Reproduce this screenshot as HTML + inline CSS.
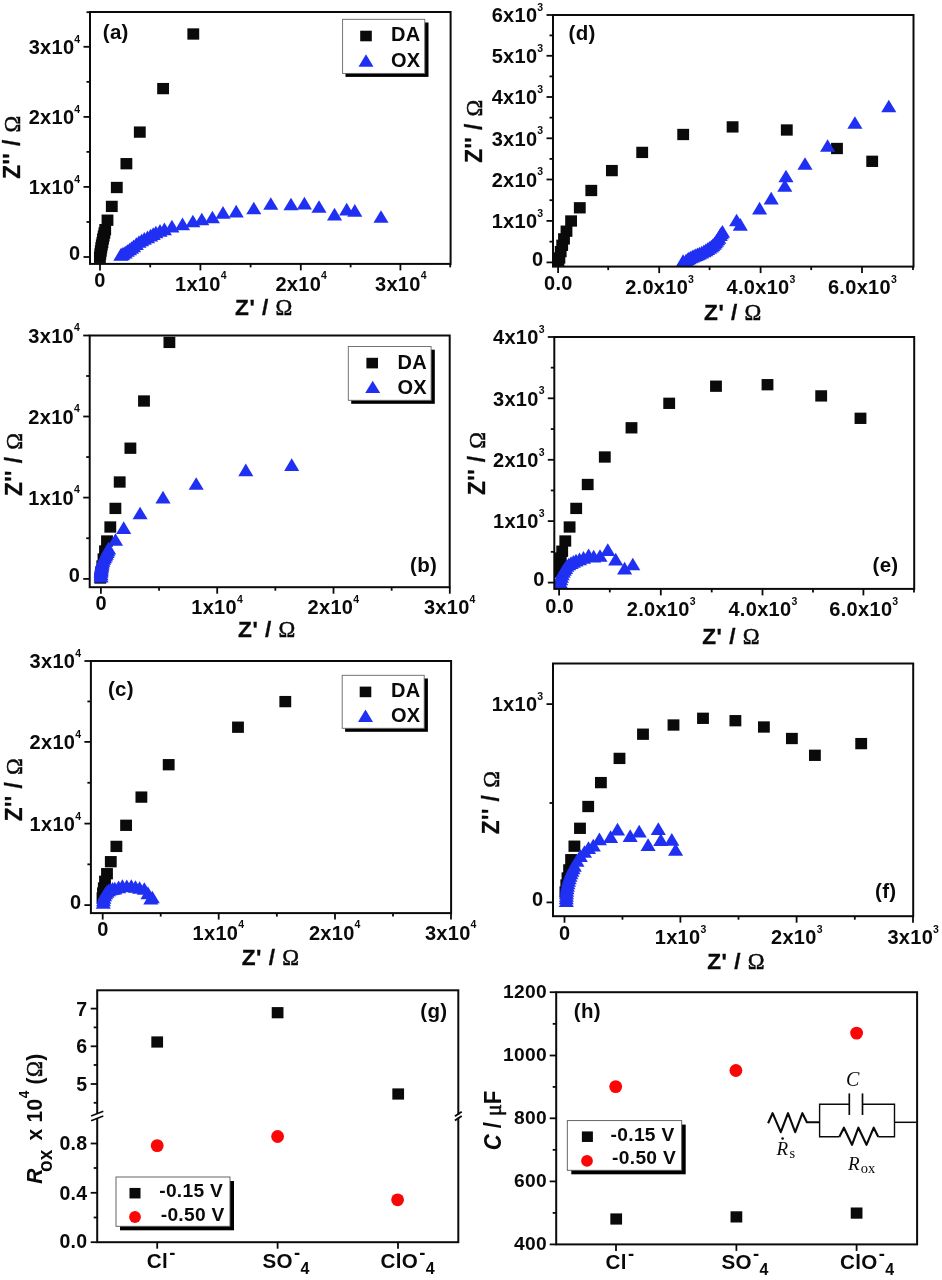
<!DOCTYPE html>
<html lang="en">
<head>
<meta charset="utf-8">
<title>Nyquist plots</title>
<style>
html,body{margin:0;padding:0;background:#fff;}
body{width:942px;height:1280px;overflow:hidden;}
svg{display:block;filter:blur(0.45px);}
</style>
</head>
<body>
<svg width="942" height="1280" viewBox="0 0 942 1280">
<rect x="0" y="0" width="942" height="1280" fill="#fff"/>
<g id="pa">
<clipPath id="ca"><rect x="90" y="12" width="360.6" height="251.9"/></clipPath>
<g clip-path="url(#ca)">
<rect x="187.38" y="28.34" width="11.83" height="11.31" fill="#0a0a0a"/>
<rect x="157.18" y="82.94" width="11.83" height="11.31" fill="#0a0a0a"/>
<rect x="133.88" y="126.44" width="11.83" height="11.31" fill="#0a0a0a"/>
<rect x="120.48" y="158.04" width="11.83" height="11.31" fill="#0a0a0a"/>
<rect x="110.88" y="181.84" width="11.83" height="11.31" fill="#0a0a0a"/>
<rect x="105.88" y="200.75" width="11.83" height="11.31" fill="#0a0a0a"/>
<rect x="101.58" y="214.54" width="11.83" height="11.31" fill="#0a0a0a"/>
<rect x="99.28" y="224.04" width="11.83" height="11.31" fill="#0a0a0a"/>
<rect x="98.48" y="227.34" width="11.83" height="11.31" fill="#0a0a0a"/>
<rect x="97.78" y="230.34" width="11.83" height="11.31" fill="#0a0a0a"/>
<rect x="97.08" y="233.34" width="11.83" height="11.31" fill="#0a0a0a"/>
<rect x="96.48" y="236.84" width="11.83" height="11.31" fill="#0a0a0a"/>
<rect x="95.88" y="239.34" width="11.83" height="11.31" fill="#0a0a0a"/>
<rect x="95.38" y="242.15" width="11.83" height="11.31" fill="#0a0a0a"/>
<rect x="94.88" y="245.34" width="11.83" height="11.31" fill="#0a0a0a"/>
<rect x="94.38" y="248.34" width="11.83" height="11.31" fill="#0a0a0a"/>
<rect x="93.98" y="251.65" width="11.83" height="11.31" fill="#0a0a0a"/>
<polygon points="120.9,247.95 113.35,260.65 128.45,260.65" fill="#2030f2"/>
<polygon points="122,247.65 114.45,260.35 129.55,260.35" fill="#2030f2"/>
<polygon points="123,246.85 115.45,259.55 130.55,259.55" fill="#2030f2"/>
<polygon points="125.2,245.85 117.65,258.55 132.75,258.55" fill="#2030f2"/>
<polygon points="127.3,244.15 119.75,256.85 134.85,256.85" fill="#2030f2"/>
<polygon points="129.5,242.65 121.95,255.35 137.05,255.35" fill="#2030f2"/>
<polygon points="131.5,241.15 123.95,253.85 139.05,253.85" fill="#2030f2"/>
<polygon points="133.6,239.45 126.05,252.15 141.15,252.15" fill="#2030f2"/>
<polygon points="136.3,237.25 128.75,249.95 143.85,249.95" fill="#2030f2"/>
<polygon points="139,235.15 131.45,247.85 146.55,247.85" fill="#2030f2"/>
<polygon points="141.6,233.65 134.05,246.35 149.15,246.35" fill="#2030f2"/>
<polygon points="144.3,232.05 136.75,244.75 151.85,244.75" fill="#2030f2"/>
<polygon points="147.5,230.45 139.95,243.15 155.05,243.15" fill="#2030f2"/>
<polygon points="150.6,228.85 143.05,241.55 158.15,241.55" fill="#2030f2"/>
<polygon points="153.2,227.25 145.65,239.95 160.75,239.95" fill="#2030f2"/>
<polygon points="155.9,225.65 148.35,238.35 163.45,238.35" fill="#2030f2"/>
<polygon points="160,224.05 152.45,236.75 167.55,236.75" fill="#2030f2"/>
<polygon points="164.4,222.45 156.85,235.15 171.95,235.15" fill="#2030f2"/>
<polygon points="171.9,219.85 164.35,232.55 179.45,232.55" fill="#2030f2"/>
<polygon points="182.5,217.45 174.95,230.15 190.05,230.15" fill="#2030f2"/>
<polygon points="192.9,214.65 185.35,227.35 200.45,227.35" fill="#2030f2"/>
<polygon points="201.8,212.65 194.25,225.35 209.35,225.35" fill="#2030f2"/>
<polygon points="212.4,210.65 204.85,223.35 219.95,223.35" fill="#2030f2"/>
<polygon points="223,205.95 215.45,218.65 230.55,218.65" fill="#2030f2"/>
<polygon points="236.2,204.85 228.65,217.55 243.75,217.55" fill="#2030f2"/>
<polygon points="253.8,201.65 246.25,214.35 261.35,214.35" fill="#2030f2"/>
<polygon points="270.8,197.15 263.25,209.85 278.35,209.85" fill="#2030f2"/>
<polygon points="291,197.65 283.45,210.35 298.55,210.35" fill="#2030f2"/>
<polygon points="304.4,196.85 296.85,209.55 311.95,209.55" fill="#2030f2"/>
<polygon points="319,200.15 311.45,212.85 326.55,212.85" fill="#2030f2"/>
<polygon points="334.5,207.85 326.95,220.55 342.05,220.55" fill="#2030f2"/>
<polygon points="346.7,202.75 339.15,215.45 354.25,215.45" fill="#2030f2"/>
<polygon points="354.8,204.05 347.25,216.75 362.35,216.75" fill="#2030f2"/>
<polygon points="381,210.15 373.45,222.85 388.55,222.85" fill="#2030f2"/>
</g>
<rect x="90" y="12" width="360.6" height="251.9" fill="none" stroke="#0a0a0a" stroke-width="2"/>
<line x1="83.5" y1="257" x2="90" y2="257" stroke="#0a0a0a" stroke-width="1.8" stroke-linecap="butt"/>
<line x1="83.5" y1="186.9" x2="90" y2="186.9" stroke="#0a0a0a" stroke-width="1.8" stroke-linecap="butt"/>
<line x1="83.5" y1="116.9" x2="90" y2="116.9" stroke="#0a0a0a" stroke-width="1.8" stroke-linecap="butt"/>
<line x1="83.5" y1="46.8" x2="90" y2="46.8" stroke="#0a0a0a" stroke-width="1.8" stroke-linecap="butt"/>
<line x1="86.5" y1="221.95" x2="90" y2="221.95" stroke="#0a0a0a" stroke-width="1.8" stroke-linecap="butt"/>
<line x1="86.5" y1="151.9" x2="90" y2="151.9" stroke="#0a0a0a" stroke-width="1.8" stroke-linecap="butt"/>
<line x1="86.5" y1="81.85" x2="90" y2="81.85" stroke="#0a0a0a" stroke-width="1.8" stroke-linecap="butt"/>
<line x1="86.5" y1="12.2" x2="90" y2="12.2" stroke="#0a0a0a" stroke-width="1.8" stroke-linecap="butt"/>
<line x1="100" y1="263.9" x2="100" y2="270.4" stroke="#0a0a0a" stroke-width="1.8" stroke-linecap="butt"/>
<line x1="200.4" y1="263.9" x2="200.4" y2="270.4" stroke="#0a0a0a" stroke-width="1.8" stroke-linecap="butt"/>
<line x1="300.8" y1="263.9" x2="300.8" y2="270.4" stroke="#0a0a0a" stroke-width="1.8" stroke-linecap="butt"/>
<line x1="400.4" y1="263.9" x2="400.4" y2="270.4" stroke="#0a0a0a" stroke-width="1.8" stroke-linecap="butt"/>
<line x1="150.2" y1="263.9" x2="150.2" y2="267.4" stroke="#0a0a0a" stroke-width="1.8" stroke-linecap="butt"/>
<line x1="250.6" y1="263.9" x2="250.6" y2="267.4" stroke="#0a0a0a" stroke-width="1.8" stroke-linecap="butt"/>
<line x1="350.6" y1="263.9" x2="350.6" y2="267.4" stroke="#0a0a0a" stroke-width="1.8" stroke-linecap="butt"/>
<line x1="450.2" y1="263.9" x2="450.2" y2="267.4" stroke="#0a0a0a" stroke-width="1.8" stroke-linecap="butt"/>
<text x="80.5" y="260.4" font-family='"Liberation Sans", Arial, Helvetica, sans-serif' font-size="20" font-weight="bold" font-style="normal" text-anchor="end" fill="#0a0a0a" letter-spacing="0.3">0</text>
<text x="80.5" y="194.1" font-family='"Liberation Sans", Arial, Helvetica, sans-serif' font-size="20" font-weight="bold" font-style="normal" text-anchor="end" fill="#0a0a0a" letter-spacing="0.3">1x10<tspan font-size="10.5" dy="-11.5">4</tspan></text>
<text x="80.5" y="124.1" font-family='"Liberation Sans", Arial, Helvetica, sans-serif' font-size="20" font-weight="bold" font-style="normal" text-anchor="end" fill="#0a0a0a" letter-spacing="0.3">2x10<tspan font-size="10.5" dy="-11.5">4</tspan></text>
<text x="80.5" y="54" font-family='"Liberation Sans", Arial, Helvetica, sans-serif' font-size="20" font-weight="bold" font-style="normal" text-anchor="end" fill="#0a0a0a" letter-spacing="0.3">3x10<tspan font-size="10.5" dy="-11.5">4</tspan></text>
<text x="100" y="287.2" font-family='"Liberation Sans", Arial, Helvetica, sans-serif' font-size="20" font-weight="bold" font-style="normal" text-anchor="middle" fill="#0a0a0a" letter-spacing="0.3">0</text>
<text x="200.9" y="290.6" font-family='"Liberation Sans", Arial, Helvetica, sans-serif' font-size="20" font-weight="bold" font-style="normal" text-anchor="middle" fill="#0a0a0a" letter-spacing="0.3">1x10<tspan font-size="10.5" dy="-11.5">4</tspan></text>
<text x="301.3" y="290.6" font-family='"Liberation Sans", Arial, Helvetica, sans-serif' font-size="20" font-weight="bold" font-style="normal" text-anchor="middle" fill="#0a0a0a" letter-spacing="0.3">2x10<tspan font-size="10.5" dy="-11.5">4</tspan></text>
<text x="400.9" y="290.6" font-family='"Liberation Sans", Arial, Helvetica, sans-serif' font-size="20" font-weight="bold" font-style="normal" text-anchor="middle" fill="#0a0a0a" letter-spacing="0.3">3x10<tspan font-size="10.5" dy="-11.5">4</tspan></text>
<text x="102.8" y="39.3" font-family='"Liberation Sans", Arial, Helvetica, sans-serif' font-size="20.5" font-weight="bold" font-style="normal" text-anchor="start" fill="#0a0a0a" letter-spacing="0.3">(a)</text>
<rect x="345.5" y="22.5" width="83" height="54.4" fill="#000"/>
<rect x="342.6" y="19.3" width="82.2" height="54.1" fill="#fff" stroke="#666" stroke-width="0.9"/>
<rect x="360.2" y="30.7" width="11.6" height="10.6" fill="#0a0a0a"/>
<polygon points="366,54.3 358.5,66.7 373.5,66.7" fill="#2030f2"/>
<text x="391" y="41.3" font-family='"Liberation Sans", Arial, Helvetica, sans-serif' font-size="20" font-weight="bold" font-style="normal" text-anchor="start" fill="#0a0a0a" letter-spacing="0.3">DA</text>
<text x="391" y="66.8" font-family='"Liberation Sans", Arial, Helvetica, sans-serif' font-size="20" font-weight="bold" font-style="normal" text-anchor="start" fill="#0a0a0a" letter-spacing="0.3">OX</text>
<text transform="translate(20.2,147) rotate(-90) scale(1,1.06)" font-family='"Liberation Sans", Arial, Helvetica, sans-serif' font-size="22.6" font-weight="bold" letter-spacing="0.5" text-anchor="middle" stroke="#0a0a0a" stroke-width="0.3" fill="#0a0a0a">Z&#39;&#39; / <tspan font-weight="normal" stroke="#0a0a0a" stroke-width="0.5" font-family='"Liberation Serif", "Times New Roman", serif'>&#937;</tspan></text>
<text x="264" y="315" font-family='"Liberation Sans", Arial, Helvetica, sans-serif' font-size="22.6" font-weight="bold" letter-spacing="0.5" text-anchor="middle" stroke="#0a0a0a" stroke-width="0.3" fill="#0a0a0a">Z&#39; / <tspan font-weight="normal" stroke="#0a0a0a" stroke-width="0.5" font-family='"Liberation Serif", "Times New Roman", serif'>&#937;</tspan></text>
</g>
<g id="pb">
<clipPath id="cb"><rect x="89.7" y="335.5" width="360" height="251.7"/></clipPath>
<g clip-path="url(#cb)">
<rect x="163.48" y="336.75" width="11.83" height="11.31" fill="#0a0a0a"/>
<rect x="138.08" y="395.35" width="11.83" height="11.31" fill="#0a0a0a"/>
<rect x="124.48" y="442.55" width="11.83" height="11.31" fill="#0a0a0a"/>
<rect x="113.78" y="476.35" width="11.83" height="11.31" fill="#0a0a0a"/>
<rect x="109.48" y="502.75" width="11.83" height="11.31" fill="#0a0a0a"/>
<rect x="104.38" y="521.35" width="11.83" height="11.31" fill="#0a0a0a"/>
<rect x="101.08" y="535.35" width="11.83" height="11.31" fill="#0a0a0a"/>
<rect x="99.08" y="545.35" width="11.83" height="11.31" fill="#0a0a0a"/>
<rect x="97.58" y="553.35" width="11.83" height="11.31" fill="#0a0a0a"/>
<rect x="96.38" y="560.35" width="11.83" height="11.31" fill="#0a0a0a"/>
<rect x="95.28" y="566.35" width="11.83" height="11.31" fill="#0a0a0a"/>
<rect x="94.38" y="572.35" width="11.83" height="11.31" fill="#0a0a0a"/>
<polygon points="291.7,458.35 284.15,471.05 299.25,471.05" fill="#2030f2"/>
<polygon points="245.8,463.45 238.25,476.15 253.35,476.15" fill="#2030f2"/>
<polygon points="196.2,477.15 188.65,489.85 203.75,489.85" fill="#2030f2"/>
<polygon points="163,490.85 155.45,503.55 170.55,503.55" fill="#2030f2"/>
<polygon points="140.1,506.65 132.55,519.35 147.65,519.35" fill="#2030f2"/>
<polygon points="123.7,521.25 116.15,533.95 131.25,533.95" fill="#2030f2"/>
<polygon points="115.5,533.15 107.95,545.85 123.05,545.85" fill="#2030f2"/>
<polygon points="108.6,541.85 101.05,554.55 116.15,554.55" fill="#2030f2"/>
<polygon points="107.82,543.6 100.27,556.3 115.37,556.3" fill="#2030f2"/>
<polygon points="107.05,545.35 99.5,558.05 114.6,558.05" fill="#2030f2"/>
<polygon points="106.28,547.1 98.73,559.8 113.83,559.8" fill="#2030f2"/>
<polygon points="105.5,548.85 97.95,561.55 113.05,561.55" fill="#2030f2"/>
<polygon points="104.55,550.45 97,563.15 112.1,563.15" fill="#2030f2"/>
<polygon points="103.6,552.05 96.05,564.75 111.15,564.75" fill="#2030f2"/>
<polygon points="102.95,553.95 95.4,566.65 110.5,566.65" fill="#2030f2"/>
<polygon points="102.3,555.85 94.75,568.55 109.85,568.55" fill="#2030f2"/>
<polygon points="102,557.5 94.45,570.2 109.55,570.2" fill="#2030f2"/>
<polygon points="101.7,559.15 94.15,571.85 109.25,571.85" fill="#2030f2"/>
<polygon points="101.5,560.65 93.95,573.35 109.05,573.35" fill="#2030f2"/>
<polygon points="101.3,562.15 93.75,574.85 108.85,574.85" fill="#2030f2"/>
<polygon points="101.2,563.65 93.65,576.35 108.75,576.35" fill="#2030f2"/>
<polygon points="101.1,565.15 93.55,577.85 108.65,577.85" fill="#2030f2"/>
<polygon points="101.05,567.5 93.5,580.2 108.6,580.2" fill="#2030f2"/>
<polygon points="101,569.85 93.45,582.55 108.55,582.55" fill="#2030f2"/>
</g>
<rect x="89.7" y="335.5" width="360" height="251.7" fill="none" stroke="#0a0a0a" stroke-width="2"/>
<line x1="83.2" y1="578.9" x2="89.7" y2="578.9" stroke="#0a0a0a" stroke-width="1.8" stroke-linecap="butt"/>
<line x1="83.2" y1="497.6" x2="89.7" y2="497.6" stroke="#0a0a0a" stroke-width="1.8" stroke-linecap="butt"/>
<line x1="83.2" y1="416.5" x2="89.7" y2="416.5" stroke="#0a0a0a" stroke-width="1.8" stroke-linecap="butt"/>
<line x1="83.2" y1="335.5" x2="89.7" y2="335.5" stroke="#0a0a0a" stroke-width="1.8" stroke-linecap="butt"/>
<line x1="86.2" y1="538.25" x2="89.7" y2="538.25" stroke="#0a0a0a" stroke-width="1.8" stroke-linecap="butt"/>
<line x1="86.2" y1="457.05" x2="89.7" y2="457.05" stroke="#0a0a0a" stroke-width="1.8" stroke-linecap="butt"/>
<line x1="86.2" y1="376" x2="89.7" y2="376" stroke="#0a0a0a" stroke-width="1.8" stroke-linecap="butt"/>
<line x1="100.9" y1="587.2" x2="100.9" y2="593.7" stroke="#0a0a0a" stroke-width="1.8" stroke-linecap="butt"/>
<line x1="217.2" y1="587.2" x2="217.2" y2="593.7" stroke="#0a0a0a" stroke-width="1.8" stroke-linecap="butt"/>
<line x1="333.5" y1="587.2" x2="333.5" y2="593.7" stroke="#0a0a0a" stroke-width="1.8" stroke-linecap="butt"/>
<line x1="449.8" y1="587.2" x2="449.8" y2="593.7" stroke="#0a0a0a" stroke-width="1.8" stroke-linecap="butt"/>
<line x1="159.05" y1="587.2" x2="159.05" y2="590.7" stroke="#0a0a0a" stroke-width="1.8" stroke-linecap="butt"/>
<line x1="275.35" y1="587.2" x2="275.35" y2="590.7" stroke="#0a0a0a" stroke-width="1.8" stroke-linecap="butt"/>
<line x1="391.65" y1="587.2" x2="391.65" y2="590.7" stroke="#0a0a0a" stroke-width="1.8" stroke-linecap="butt"/>
<text x="80.2" y="582.1" font-family='"Liberation Sans", Arial, Helvetica, sans-serif' font-size="20" font-weight="bold" font-style="normal" text-anchor="end" fill="#0a0a0a" letter-spacing="0.3">0</text>
<text x="80.2" y="504.8" font-family='"Liberation Sans", Arial, Helvetica, sans-serif' font-size="20" font-weight="bold" font-style="normal" text-anchor="end" fill="#0a0a0a" letter-spacing="0.3">1x10<tspan font-size="10.5" dy="-11.5">4</tspan></text>
<text x="80.2" y="423.7" font-family='"Liberation Sans", Arial, Helvetica, sans-serif' font-size="20" font-weight="bold" font-style="normal" text-anchor="end" fill="#0a0a0a" letter-spacing="0.3">2x10<tspan font-size="10.5" dy="-11.5">4</tspan></text>
<text x="80.2" y="342.7" font-family='"Liberation Sans", Arial, Helvetica, sans-serif' font-size="20" font-weight="bold" font-style="normal" text-anchor="end" fill="#0a0a0a" letter-spacing="0.3">3x10<tspan font-size="10.5" dy="-11.5">4</tspan></text>
<text x="101.2" y="610" font-family='"Liberation Sans", Arial, Helvetica, sans-serif' font-size="20" font-weight="bold" font-style="normal" text-anchor="middle" fill="#0a0a0a" letter-spacing="0.3">0</text>
<text x="217.2" y="614.1" font-family='"Liberation Sans", Arial, Helvetica, sans-serif' font-size="20" font-weight="bold" font-style="normal" text-anchor="middle" fill="#0a0a0a" letter-spacing="0.3">1x10<tspan font-size="10.5" dy="-11.5">4</tspan></text>
<text x="333.5" y="614.1" font-family='"Liberation Sans", Arial, Helvetica, sans-serif' font-size="20" font-weight="bold" font-style="normal" text-anchor="middle" fill="#0a0a0a" letter-spacing="0.3">2x10<tspan font-size="10.5" dy="-11.5">4</tspan></text>
<text x="449.8" y="614.1" font-family='"Liberation Sans", Arial, Helvetica, sans-serif' font-size="20" font-weight="bold" font-style="normal" text-anchor="middle" fill="#0a0a0a" letter-spacing="0.3">3x10<tspan font-size="10.5" dy="-11.5">4</tspan></text>
<text x="410" y="572.1" font-family='"Liberation Sans", Arial, Helvetica, sans-serif' font-size="20.5" font-weight="bold" font-style="normal" text-anchor="start" fill="#0a0a0a" letter-spacing="0.3">(b)</text>
<rect x="351.2" y="349.7" width="83.6" height="54.1" fill="#000"/>
<rect x="348.3" y="346.5" width="82.8" height="53.8" fill="#fff" stroke="#666" stroke-width="0.9"/>
<rect x="366.4" y="357.8" width="11.6" height="10.6" fill="#0a0a0a"/>
<polygon points="372.7,380.7 365.2,393.1 380.2,393.1" fill="#2030f2"/>
<text x="397.4" y="368.6" font-family='"Liberation Sans", Arial, Helvetica, sans-serif' font-size="20" font-weight="bold" font-style="normal" text-anchor="start" fill="#0a0a0a" letter-spacing="0.3">DA</text>
<text x="397.4" y="394" font-family='"Liberation Sans", Arial, Helvetica, sans-serif' font-size="20" font-weight="bold" font-style="normal" text-anchor="start" fill="#0a0a0a" letter-spacing="0.3">OX</text>
<text transform="translate(21.8,464.3) rotate(-90) scale(1,1.06)" font-family='"Liberation Sans", Arial, Helvetica, sans-serif' font-size="22.6" font-weight="bold" letter-spacing="0.5" text-anchor="middle" stroke="#0a0a0a" stroke-width="0.3" fill="#0a0a0a">Z&#39;&#39; / <tspan font-weight="normal" stroke="#0a0a0a" stroke-width="0.5" font-family='"Liberation Serif", "Times New Roman", serif'>&#937;</tspan></text>
<text x="267" y="637.2" font-family='"Liberation Sans", Arial, Helvetica, sans-serif' font-size="22.6" font-weight="bold" letter-spacing="0.5" text-anchor="middle" stroke="#0a0a0a" stroke-width="0.3" fill="#0a0a0a">Z&#39; / <tspan font-weight="normal" stroke="#0a0a0a" stroke-width="0.5" font-family='"Liberation Serif", "Times New Roman", serif'>&#937;</tspan></text>
</g>
<g id="pc">
<clipPath id="cc"><rect x="90.9" y="661" width="360.2" height="252.1"/></clipPath>
<g clip-path="url(#cc)">
<rect x="279.38" y="695.95" width="11.83" height="11.31" fill="#0a0a0a"/>
<rect x="232.08" y="721.55" width="11.83" height="11.31" fill="#0a0a0a"/>
<rect x="162.78" y="759.05" width="11.83" height="11.31" fill="#0a0a0a"/>
<rect x="135.48" y="791.45" width="11.83" height="11.31" fill="#0a0a0a"/>
<rect x="120.18" y="819.64" width="11.83" height="11.31" fill="#0a0a0a"/>
<rect x="110.48" y="840.75" width="11.83" height="11.31" fill="#0a0a0a"/>
<rect x="104.88" y="856.05" width="11.83" height="11.31" fill="#0a0a0a"/>
<rect x="101.08" y="868.05" width="11.83" height="11.31" fill="#0a0a0a"/>
<rect x="99.08" y="875.64" width="11.83" height="11.31" fill="#0a0a0a"/>
<rect x="97.88" y="882.35" width="11.83" height="11.31" fill="#0a0a0a"/>
<rect x="97.08" y="887.35" width="11.83" height="11.31" fill="#0a0a0a"/>
<rect x="96.58" y="892.35" width="11.83" height="11.31" fill="#0a0a0a"/>
<polygon points="103.3,896.15 95.75,908.85 110.85,908.85" fill="#2030f2"/>
<polygon points="103.5,893.65 95.95,906.35 111.05,906.35" fill="#2030f2"/>
<polygon points="103.9,891.15 96.35,903.85 111.45,903.85" fill="#2030f2"/>
<polygon points="104.6,888.65 97.05,901.35 112.15,901.35" fill="#2030f2"/>
<polygon points="105.6,886.65 98.05,899.35 113.15,899.35" fill="#2030f2"/>
<polygon points="106.9,884.95 99.35,897.65 114.45,897.65" fill="#2030f2"/>
<polygon points="108.5,883.65 100.95,896.35 116.05,896.35" fill="#2030f2"/>
<polygon points="110.5,882.65 102.95,895.35 118.05,895.35" fill="#2030f2"/>
<polygon points="112.5,882.05 104.95,894.75 120.05,894.75" fill="#2030f2"/>
<polygon points="114.8,881.75 107.25,894.45 122.35,894.45" fill="#2030f2"/>
<polygon points="118.6,880.45 111.05,893.15 126.15,893.15" fill="#2030f2"/>
<polygon points="122.4,879.25 114.85,891.95 129.95,891.95" fill="#2030f2"/>
<polygon points="126.8,879.45 119.25,892.15 134.35,892.15" fill="#2030f2"/>
<polygon points="131.3,879.25 123.75,891.95 138.85,891.95" fill="#2030f2"/>
<polygon points="135.5,880.15 127.95,892.85 143.05,892.85" fill="#2030f2"/>
<polygon points="139.6,881.15 132.05,893.85 147.15,893.85" fill="#2030f2"/>
<polygon points="144.3,882.15 136.75,894.85 151.85,894.85" fill="#2030f2"/>
<polygon points="148,886.45 140.45,899.15 155.55,899.15" fill="#2030f2"/>
<polygon points="152.3,890.65 144.75,903.35 159.85,903.35" fill="#2030f2"/>
<polygon points="150.8,891.85 143.25,904.55 158.35,904.55" fill="#2030f2"/>
</g>
<rect x="90.9" y="661" width="360.2" height="252.1" fill="none" stroke="#0a0a0a" stroke-width="2"/>
<line x1="84.4" y1="905.1" x2="90.9" y2="905.1" stroke="#0a0a0a" stroke-width="1.8" stroke-linecap="butt"/>
<line x1="84.4" y1="823.6" x2="90.9" y2="823.6" stroke="#0a0a0a" stroke-width="1.8" stroke-linecap="butt"/>
<line x1="84.4" y1="741.9" x2="90.9" y2="741.9" stroke="#0a0a0a" stroke-width="1.8" stroke-linecap="butt"/>
<line x1="84.4" y1="661" x2="90.9" y2="661" stroke="#0a0a0a" stroke-width="1.8" stroke-linecap="butt"/>
<line x1="87.4" y1="864.35" x2="90.9" y2="864.35" stroke="#0a0a0a" stroke-width="1.8" stroke-linecap="butt"/>
<line x1="87.4" y1="782.75" x2="90.9" y2="782.75" stroke="#0a0a0a" stroke-width="1.8" stroke-linecap="butt"/>
<line x1="87.4" y1="701.45" x2="90.9" y2="701.45" stroke="#0a0a0a" stroke-width="1.8" stroke-linecap="butt"/>
<line x1="102.7" y1="913.1" x2="102.7" y2="919.6" stroke="#0a0a0a" stroke-width="1.8" stroke-linecap="butt"/>
<line x1="218.7" y1="913.1" x2="218.7" y2="919.6" stroke="#0a0a0a" stroke-width="1.8" stroke-linecap="butt"/>
<line x1="335" y1="913.1" x2="335" y2="919.6" stroke="#0a0a0a" stroke-width="1.8" stroke-linecap="butt"/>
<line x1="451" y1="913.1" x2="451" y2="919.6" stroke="#0a0a0a" stroke-width="1.8" stroke-linecap="butt"/>
<line x1="160.7" y1="913.1" x2="160.7" y2="916.6" stroke="#0a0a0a" stroke-width="1.8" stroke-linecap="butt"/>
<line x1="276.85" y1="913.1" x2="276.85" y2="916.6" stroke="#0a0a0a" stroke-width="1.8" stroke-linecap="butt"/>
<line x1="393" y1="913.1" x2="393" y2="916.6" stroke="#0a0a0a" stroke-width="1.8" stroke-linecap="butt"/>
<text x="81.4" y="908.7" font-family='"Liberation Sans", Arial, Helvetica, sans-serif' font-size="20" font-weight="bold" font-style="normal" text-anchor="end" fill="#0a0a0a" letter-spacing="0.3">0</text>
<text x="81.4" y="831" font-family='"Liberation Sans", Arial, Helvetica, sans-serif' font-size="20" font-weight="bold" font-style="normal" text-anchor="end" fill="#0a0a0a" letter-spacing="0.3">1x10<tspan font-size="10.5" dy="-11.5">4</tspan></text>
<text x="81.4" y="749.3" font-family='"Liberation Sans", Arial, Helvetica, sans-serif' font-size="20" font-weight="bold" font-style="normal" text-anchor="end" fill="#0a0a0a" letter-spacing="0.3">2x10<tspan font-size="10.5" dy="-11.5">4</tspan></text>
<text x="81.4" y="668.4" font-family='"Liberation Sans", Arial, Helvetica, sans-serif' font-size="20" font-weight="bold" font-style="normal" text-anchor="end" fill="#0a0a0a" letter-spacing="0.3">3x10<tspan font-size="10.5" dy="-11.5">4</tspan></text>
<text x="103" y="935.7" font-family='"Liberation Sans", Arial, Helvetica, sans-serif' font-size="20" font-weight="bold" font-style="normal" text-anchor="middle" fill="#0a0a0a" letter-spacing="0.3">0</text>
<text x="218.5" y="939.8" font-family='"Liberation Sans", Arial, Helvetica, sans-serif' font-size="20" font-weight="bold" font-style="normal" text-anchor="middle" fill="#0a0a0a" letter-spacing="0.3">1x10<tspan font-size="10.5" dy="-11.5">4</tspan></text>
<text x="334.8" y="939.8" font-family='"Liberation Sans", Arial, Helvetica, sans-serif' font-size="20" font-weight="bold" font-style="normal" text-anchor="middle" fill="#0a0a0a" letter-spacing="0.3">2x10<tspan font-size="10.5" dy="-11.5">4</tspan></text>
<text x="450.8" y="939.8" font-family='"Liberation Sans", Arial, Helvetica, sans-serif' font-size="20" font-weight="bold" font-style="normal" text-anchor="middle" fill="#0a0a0a" letter-spacing="0.3">3x10<tspan font-size="10.5" dy="-11.5">4</tspan></text>
<text x="107.9" y="695.5" font-family='"Liberation Sans", Arial, Helvetica, sans-serif' font-size="20.5" font-weight="bold" font-style="normal" text-anchor="start" fill="#0a0a0a" letter-spacing="0.3">(c)</text>
<rect x="345.1" y="678.5" width="82.8" height="53.3" fill="#000"/>
<rect x="342.2" y="675.3" width="82" height="53" fill="#fff" stroke="#666" stroke-width="0.9"/>
<rect x="359.7" y="686.6" width="11.6" height="10.6" fill="#0a0a0a"/>
<polygon points="365.5,709.5 358,721.9 373,721.9" fill="#2030f2"/>
<text x="391" y="697.4" font-family='"Liberation Sans", Arial, Helvetica, sans-serif' font-size="20" font-weight="bold" font-style="normal" text-anchor="start" fill="#0a0a0a" letter-spacing="0.3">DA</text>
<text x="391" y="721.6" font-family='"Liberation Sans", Arial, Helvetica, sans-serif' font-size="20" font-weight="bold" font-style="normal" text-anchor="start" fill="#0a0a0a" letter-spacing="0.3">OX</text>
<text transform="translate(21.8,789.5) rotate(-90) scale(1,1.06)" font-family='"Liberation Sans", Arial, Helvetica, sans-serif' font-size="22.6" font-weight="bold" letter-spacing="0.5" text-anchor="middle" stroke="#0a0a0a" stroke-width="0.3" fill="#0a0a0a">Z&#39;&#39; / <tspan font-weight="normal" stroke="#0a0a0a" stroke-width="0.5" font-family='"Liberation Serif", "Times New Roman", serif'>&#937;</tspan></text>
<text x="270.7" y="964.5" font-family='"Liberation Sans", Arial, Helvetica, sans-serif' font-size="22.6" font-weight="bold" letter-spacing="0.5" text-anchor="middle" stroke="#0a0a0a" stroke-width="0.3" fill="#0a0a0a">Z&#39; / <tspan font-weight="normal" stroke="#0a0a0a" stroke-width="0.5" font-family='"Liberation Serif", "Times New Roman", serif'>&#937;</tspan></text>
</g>
<g id="pd">
<clipPath id="cd"><rect x="553" y="15" width="360.5" height="251.6"/></clipPath>
<g clip-path="url(#cd)">
<rect x="866.28" y="155.65" width="11.83" height="11.31" fill="#0a0a0a"/>
<rect x="831.08" y="142.84" width="11.83" height="11.31" fill="#0a0a0a"/>
<rect x="780.88" y="124.34" width="11.83" height="11.31" fill="#0a0a0a"/>
<rect x="726.68" y="121.25" width="11.83" height="11.31" fill="#0a0a0a"/>
<rect x="677.28" y="128.84" width="11.83" height="11.31" fill="#0a0a0a"/>
<rect x="636.28" y="146.75" width="11.83" height="11.31" fill="#0a0a0a"/>
<rect x="605.98" y="164.94" width="11.83" height="11.31" fill="#0a0a0a"/>
<rect x="585.38" y="184.84" width="11.83" height="11.31" fill="#0a0a0a"/>
<rect x="573.88" y="202.15" width="11.83" height="11.31" fill="#0a0a0a"/>
<rect x="565.18" y="215.34" width="11.83" height="11.31" fill="#0a0a0a"/>
<rect x="560.58" y="225.54" width="11.83" height="11.31" fill="#0a0a0a"/>
<rect x="558.08" y="233.25" width="11.83" height="11.31" fill="#0a0a0a"/>
<rect x="556.28" y="239.65" width="11.83" height="11.31" fill="#0a0a0a"/>
<rect x="554.78" y="245.94" width="11.83" height="11.31" fill="#0a0a0a"/>
<rect x="553.48" y="252.34" width="11.83" height="11.31" fill="#0a0a0a"/>
<rect x="552.48" y="256.65" width="11.83" height="11.31" fill="#0a0a0a"/>
<polygon points="683.1,254.25 675.55,266.95 690.65,266.95" fill="#2030f2"/>
<polygon points="686,253.85 678.45,266.55 693.55,266.55" fill="#2030f2"/>
<polygon points="687.5,252.65 679.95,265.35 695.05,265.35" fill="#2030f2"/>
<polygon points="689,251.45 681.45,264.15 696.55,264.15" fill="#2030f2"/>
<polygon points="690.73,250.65 683.18,263.35 698.28,263.35" fill="#2030f2"/>
<polygon points="692.47,249.85 684.92,262.55 700.02,262.55" fill="#2030f2"/>
<polygon points="694.2,249.05 686.65,261.75 701.75,261.75" fill="#2030f2"/>
<polygon points="695.93,248.32 688.38,261.02 703.48,261.02" fill="#2030f2"/>
<polygon points="697.67,247.58 690.12,260.28 705.22,260.28" fill="#2030f2"/>
<polygon points="699.4,246.85 691.85,259.55 706.95,259.55" fill="#2030f2"/>
<polygon points="701.65,245.7 694.1,258.4 709.2,258.4" fill="#2030f2"/>
<polygon points="703.9,244.55 696.35,257.25 711.45,257.25" fill="#2030f2"/>
<polygon points="705.75,243.45 698.2,256.15 713.3,256.15" fill="#2030f2"/>
<polygon points="707.6,242.35 700.05,255.05 715.15,255.05" fill="#2030f2"/>
<polygon points="709.45,241.1 701.9,253.8 717,253.8" fill="#2030f2"/>
<polygon points="711.3,239.85 703.75,252.55 718.85,252.55" fill="#2030f2"/>
<polygon points="712.8,238.5 705.25,251.2 720.35,251.2" fill="#2030f2"/>
<polygon points="714.3,237.15 706.75,249.85 721.85,249.85" fill="#2030f2"/>
<polygon points="715.4,235.65 707.85,248.35 722.95,248.35" fill="#2030f2"/>
<polygon points="716.5,234.15 708.95,246.85 724.05,246.85" fill="#2030f2"/>
<polygon points="717.65,232.65 710.1,245.35 725.2,245.35" fill="#2030f2"/>
<polygon points="718.8,231.15 711.25,243.85 726.35,243.85" fill="#2030f2"/>
<polygon points="720.2,228.25 712.65,240.95 727.75,240.95" fill="#2030f2"/>
<polygon points="721.35,226.6 713.8,239.3 728.9,239.3" fill="#2030f2"/>
<polygon points="722.5,224.95 714.95,237.65 730.05,237.65" fill="#2030f2"/>
<polygon points="736.6,213.65 729.05,226.35 744.15,226.35" fill="#2030f2"/>
<polygon points="740.3,218.05 732.75,230.75 747.85,230.75" fill="#2030f2"/>
<polygon points="759.6,201.75 752.05,214.45 767.15,214.45" fill="#2030f2"/>
<polygon points="771.2,191.75 763.65,204.45 778.75,204.45" fill="#2030f2"/>
<polygon points="784.8,179.15 777.25,191.85 792.35,191.85" fill="#2030f2"/>
<polygon points="786,169.65 778.45,182.35 793.55,182.35" fill="#2030f2"/>
<polygon points="805,157.15 797.45,169.85 812.55,169.85" fill="#2030f2"/>
<polygon points="827.6,139.15 820.05,151.85 835.15,151.85" fill="#2030f2"/>
<polygon points="854.9,116.15 847.35,128.85 862.45,128.85" fill="#2030f2"/>
<polygon points="888.8,99.65 881.25,112.35 896.35,112.35" fill="#2030f2"/>
</g>
<rect x="553" y="15" width="360.5" height="251.6" fill="none" stroke="#0a0a0a" stroke-width="2"/>
<line x1="546.5" y1="262.4" x2="553" y2="262.4" stroke="#0a0a0a" stroke-width="1.8" stroke-linecap="butt"/>
<line x1="546.5" y1="220.9" x2="553" y2="220.9" stroke="#0a0a0a" stroke-width="1.8" stroke-linecap="butt"/>
<line x1="546.5" y1="179.5" x2="553" y2="179.5" stroke="#0a0a0a" stroke-width="1.8" stroke-linecap="butt"/>
<line x1="546.5" y1="138.3" x2="553" y2="138.3" stroke="#0a0a0a" stroke-width="1.8" stroke-linecap="butt"/>
<line x1="546.5" y1="97" x2="553" y2="97" stroke="#0a0a0a" stroke-width="1.8" stroke-linecap="butt"/>
<line x1="546.5" y1="55.8" x2="553" y2="55.8" stroke="#0a0a0a" stroke-width="1.8" stroke-linecap="butt"/>
<line x1="546.5" y1="15" x2="553" y2="15" stroke="#0a0a0a" stroke-width="1.8" stroke-linecap="butt"/>
<line x1="549.5" y1="241.65" x2="553" y2="241.65" stroke="#0a0a0a" stroke-width="1.8" stroke-linecap="butt"/>
<line x1="549.5" y1="200.2" x2="553" y2="200.2" stroke="#0a0a0a" stroke-width="1.8" stroke-linecap="butt"/>
<line x1="549.5" y1="158.9" x2="553" y2="158.9" stroke="#0a0a0a" stroke-width="1.8" stroke-linecap="butt"/>
<line x1="549.5" y1="117.65" x2="553" y2="117.65" stroke="#0a0a0a" stroke-width="1.8" stroke-linecap="butt"/>
<line x1="549.5" y1="76.4" x2="553" y2="76.4" stroke="#0a0a0a" stroke-width="1.8" stroke-linecap="butt"/>
<line x1="549.5" y1="35.4" x2="553" y2="35.4" stroke="#0a0a0a" stroke-width="1.8" stroke-linecap="butt"/>
<line x1="558.1" y1="266.6" x2="558.1" y2="273.1" stroke="#0a0a0a" stroke-width="1.8" stroke-linecap="butt"/>
<line x1="659.2" y1="266.6" x2="659.2" y2="273.1" stroke="#0a0a0a" stroke-width="1.8" stroke-linecap="butt"/>
<line x1="760.6" y1="266.6" x2="760.6" y2="273.1" stroke="#0a0a0a" stroke-width="1.8" stroke-linecap="butt"/>
<line x1="862" y1="266.6" x2="862" y2="273.1" stroke="#0a0a0a" stroke-width="1.8" stroke-linecap="butt"/>
<line x1="608.2" y1="266.6" x2="608.2" y2="270.1" stroke="#0a0a0a" stroke-width="1.8" stroke-linecap="butt"/>
<line x1="709.6" y1="266.6" x2="709.6" y2="270.1" stroke="#0a0a0a" stroke-width="1.8" stroke-linecap="butt"/>
<line x1="811.2" y1="266.6" x2="811.2" y2="270.1" stroke="#0a0a0a" stroke-width="1.8" stroke-linecap="butt"/>
<line x1="913" y1="266.6" x2="913" y2="270.1" stroke="#0a0a0a" stroke-width="1.8" stroke-linecap="butt"/>
<text x="543.5" y="265.5" font-family='"Liberation Sans", Arial, Helvetica, sans-serif' font-size="20" font-weight="bold" font-style="normal" text-anchor="end" fill="#0a0a0a" letter-spacing="0.3">0</text>
<text x="543.5" y="228.2" font-family='"Liberation Sans", Arial, Helvetica, sans-serif' font-size="20" font-weight="bold" font-style="normal" text-anchor="end" fill="#0a0a0a" letter-spacing="0.3">1x10<tspan font-size="10.5" dy="-11.5">3</tspan></text>
<text x="543.5" y="186.8" font-family='"Liberation Sans", Arial, Helvetica, sans-serif' font-size="20" font-weight="bold" font-style="normal" text-anchor="end" fill="#0a0a0a" letter-spacing="0.3">2x10<tspan font-size="10.5" dy="-11.5">3</tspan></text>
<text x="543.5" y="145.6" font-family='"Liberation Sans", Arial, Helvetica, sans-serif' font-size="20" font-weight="bold" font-style="normal" text-anchor="end" fill="#0a0a0a" letter-spacing="0.3">3x10<tspan font-size="10.5" dy="-11.5">3</tspan></text>
<text x="543.5" y="104.3" font-family='"Liberation Sans", Arial, Helvetica, sans-serif' font-size="20" font-weight="bold" font-style="normal" text-anchor="end" fill="#0a0a0a" letter-spacing="0.3">4x10<tspan font-size="10.5" dy="-11.5">3</tspan></text>
<text x="543.5" y="63.1" font-family='"Liberation Sans", Arial, Helvetica, sans-serif' font-size="20" font-weight="bold" font-style="normal" text-anchor="end" fill="#0a0a0a" letter-spacing="0.3">5x10<tspan font-size="10.5" dy="-11.5">3</tspan></text>
<text x="543.5" y="22.3" font-family='"Liberation Sans", Arial, Helvetica, sans-serif' font-size="20" font-weight="bold" font-style="normal" text-anchor="end" fill="#0a0a0a" letter-spacing="0.3">6x10<tspan font-size="10.5" dy="-11.5">3</tspan></text>
<text x="558.4" y="290.1" font-family='"Liberation Sans", Arial, Helvetica, sans-serif' font-size="20" font-weight="bold" font-style="normal" text-anchor="middle" fill="#0a0a0a" letter-spacing="0.3">0.0</text>
<text x="659.7" y="294.2" font-family='"Liberation Sans", Arial, Helvetica, sans-serif' font-size="20" font-weight="bold" font-style="normal" text-anchor="middle" fill="#0a0a0a" letter-spacing="0.3">2.0x10<tspan font-size="10.5" dy="-11.5">3</tspan></text>
<text x="761.1" y="294.2" font-family='"Liberation Sans", Arial, Helvetica, sans-serif' font-size="20" font-weight="bold" font-style="normal" text-anchor="middle" fill="#0a0a0a" letter-spacing="0.3">4.0x10<tspan font-size="10.5" dy="-11.5">3</tspan></text>
<text x="862.5" y="294.2" font-family='"Liberation Sans", Arial, Helvetica, sans-serif' font-size="20" font-weight="bold" font-style="normal" text-anchor="middle" fill="#0a0a0a" letter-spacing="0.3">6.0x10<tspan font-size="10.5" dy="-11.5">3</tspan></text>
<text x="568.6" y="39.7" font-family='"Liberation Sans", Arial, Helvetica, sans-serif' font-size="20.5" font-weight="bold" font-style="normal" text-anchor="start" fill="#0a0a0a" letter-spacing="0.3">(d)</text>
<text transform="translate(481.6,131) rotate(-90) scale(1,1.06)" font-family='"Liberation Sans", Arial, Helvetica, sans-serif' font-size="22.6" font-weight="bold" letter-spacing="0.5" text-anchor="middle" stroke="#0a0a0a" stroke-width="0.3" fill="#0a0a0a">Z&#39;&#39; / <tspan font-weight="normal" stroke="#0a0a0a" stroke-width="0.5" font-family='"Liberation Serif", "Times New Roman", serif'>&#937;</tspan></text>
<text x="733" y="320.4" font-family='"Liberation Sans", Arial, Helvetica, sans-serif' font-size="22.6" font-weight="bold" letter-spacing="0.5" text-anchor="middle" stroke="#0a0a0a" stroke-width="0.3" fill="#0a0a0a">Z&#39; / <tspan font-weight="normal" stroke="#0a0a0a" stroke-width="0.5" font-family='"Liberation Serif", "Times New Roman", serif'>&#937;</tspan></text>
</g>
<g id="pe">
<clipPath id="ce"><rect x="554.3" y="337" width="359.9" height="251.9"/></clipPath>
<g clip-path="url(#ce)">
<rect x="854.58" y="412.65" width="11.83" height="11.31" fill="#0a0a0a"/>
<rect x="815.28" y="390.25" width="11.83" height="11.31" fill="#0a0a0a"/>
<rect x="761.58" y="379.05" width="11.83" height="11.31" fill="#0a0a0a"/>
<rect x="710.08" y="380.55" width="11.83" height="11.31" fill="#0a0a0a"/>
<rect x="663.28" y="397.65" width="11.83" height="11.31" fill="#0a0a0a"/>
<rect x="625.58" y="422.15" width="11.83" height="11.31" fill="#0a0a0a"/>
<rect x="598.88" y="451.35" width="11.83" height="11.31" fill="#0a0a0a"/>
<rect x="581.78" y="478.85" width="11.83" height="11.31" fill="#0a0a0a"/>
<rect x="570.28" y="502.75" width="11.83" height="11.31" fill="#0a0a0a"/>
<rect x="563.68" y="521.35" width="11.83" height="11.31" fill="#0a0a0a"/>
<rect x="559.38" y="535.35" width="11.83" height="11.31" fill="#0a0a0a"/>
<rect x="556.28" y="545.55" width="11.83" height="11.31" fill="#0a0a0a"/>
<rect x="554.88" y="552.35" width="11.83" height="11.31" fill="#0a0a0a"/>
<rect x="553.88" y="559.35" width="11.83" height="11.31" fill="#0a0a0a"/>
<rect x="553.28" y="566.35" width="11.83" height="11.31" fill="#0a0a0a"/>
<polygon points="560.3,575.65 552.75,588.35 567.85,588.35" fill="#2030f2"/>
<polygon points="560.7,572.65 553.15,585.35 568.25,585.35" fill="#2030f2"/>
<polygon points="561.4,569.95 553.85,582.65 568.95,582.65" fill="#2030f2"/>
<polygon points="562.2,567.45 554.65,580.15 569.75,580.15" fill="#2030f2"/>
<polygon points="563.2,565.15 555.65,577.85 570.75,577.85" fill="#2030f2"/>
<polygon points="564.3,563.15 556.75,575.85 571.85,575.85" fill="#2030f2"/>
<polygon points="565.6,561.25 558.05,573.95 573.15,573.95" fill="#2030f2"/>
<polygon points="566.9,559.15 559.35,571.85 574.45,571.85" fill="#2030f2"/>
<polygon points="568.8,557.65 561.25,570.35 576.35,570.35" fill="#2030f2"/>
<polygon points="571,556.25 563.45,568.95 578.55,568.95" fill="#2030f2"/>
<polygon points="573.4,554.95 565.85,567.65 580.95,567.65" fill="#2030f2"/>
<polygon points="576,553.75 568.45,566.45 583.55,566.45" fill="#2030f2"/>
<polygon points="579.5,552.45 571.95,565.15 587.05,565.15" fill="#2030f2"/>
<polygon points="583.5,550.95 575.95,563.65 591.05,563.65" fill="#2030f2"/>
<polygon points="588.6,548.55 581.05,561.25 596.15,561.25" fill="#2030f2"/>
<polygon points="593.7,549.75 586.15,562.45 601.25,562.45" fill="#2030f2"/>
<polygon points="600,549.15 592.45,561.85 607.55,561.85" fill="#2030f2"/>
<polygon points="607.8,543.35 600.25,556.05 615.35,556.05" fill="#2030f2"/>
<polygon points="615.7,552.75 608.15,565.45 623.25,565.45" fill="#2030f2"/>
<polygon points="624.6,561.75 617.05,574.45 632.15,574.45" fill="#2030f2"/>
<polygon points="632.8,557.65 625.25,570.35 640.35,570.35" fill="#2030f2"/>
</g>
<rect x="554.3" y="337" width="359.9" height="251.9" fill="none" stroke="#0a0a0a" stroke-width="2"/>
<line x1="547.8" y1="582.6" x2="554.3" y2="582.6" stroke="#0a0a0a" stroke-width="1.8" stroke-linecap="butt"/>
<line x1="547.8" y1="521.1" x2="554.3" y2="521.1" stroke="#0a0a0a" stroke-width="1.8" stroke-linecap="butt"/>
<line x1="547.8" y1="459.8" x2="554.3" y2="459.8" stroke="#0a0a0a" stroke-width="1.8" stroke-linecap="butt"/>
<line x1="547.8" y1="398.3" x2="554.3" y2="398.3" stroke="#0a0a0a" stroke-width="1.8" stroke-linecap="butt"/>
<line x1="547.8" y1="337" x2="554.3" y2="337" stroke="#0a0a0a" stroke-width="1.8" stroke-linecap="butt"/>
<line x1="550.8" y1="551.85" x2="554.3" y2="551.85" stroke="#0a0a0a" stroke-width="1.8" stroke-linecap="butt"/>
<line x1="550.8" y1="490.45" x2="554.3" y2="490.45" stroke="#0a0a0a" stroke-width="1.8" stroke-linecap="butt"/>
<line x1="550.8" y1="429.05" x2="554.3" y2="429.05" stroke="#0a0a0a" stroke-width="1.8" stroke-linecap="butt"/>
<line x1="550.8" y1="367.65" x2="554.3" y2="367.65" stroke="#0a0a0a" stroke-width="1.8" stroke-linecap="butt"/>
<line x1="559.1" y1="588.9" x2="559.1" y2="595.4" stroke="#0a0a0a" stroke-width="1.8" stroke-linecap="butt"/>
<line x1="660.8" y1="588.9" x2="660.8" y2="595.4" stroke="#0a0a0a" stroke-width="1.8" stroke-linecap="butt"/>
<line x1="762.5" y1="588.9" x2="762.5" y2="595.4" stroke="#0a0a0a" stroke-width="1.8" stroke-linecap="butt"/>
<line x1="863.4" y1="588.9" x2="863.4" y2="595.4" stroke="#0a0a0a" stroke-width="1.8" stroke-linecap="butt"/>
<line x1="609.8" y1="588.9" x2="609.8" y2="592.4" stroke="#0a0a0a" stroke-width="1.8" stroke-linecap="butt"/>
<line x1="711.7" y1="588.9" x2="711.7" y2="592.4" stroke="#0a0a0a" stroke-width="1.8" stroke-linecap="butt"/>
<line x1="813" y1="588.9" x2="813" y2="592.4" stroke="#0a0a0a" stroke-width="1.8" stroke-linecap="butt"/>
<line x1="914" y1="588.9" x2="914" y2="592.4" stroke="#0a0a0a" stroke-width="1.8" stroke-linecap="butt"/>
<text x="544.8" y="586" font-family='"Liberation Sans", Arial, Helvetica, sans-serif' font-size="20" font-weight="bold" font-style="normal" text-anchor="end" fill="#0a0a0a" letter-spacing="0.3">0</text>
<text x="544.8" y="528.4" font-family='"Liberation Sans", Arial, Helvetica, sans-serif' font-size="20" font-weight="bold" font-style="normal" text-anchor="end" fill="#0a0a0a" letter-spacing="0.3">1x10<tspan font-size="10.5" dy="-11.5">3</tspan></text>
<text x="544.8" y="467.1" font-family='"Liberation Sans", Arial, Helvetica, sans-serif' font-size="20" font-weight="bold" font-style="normal" text-anchor="end" fill="#0a0a0a" letter-spacing="0.3">2x10<tspan font-size="10.5" dy="-11.5">3</tspan></text>
<text x="544.8" y="405.6" font-family='"Liberation Sans", Arial, Helvetica, sans-serif' font-size="20" font-weight="bold" font-style="normal" text-anchor="end" fill="#0a0a0a" letter-spacing="0.3">3x10<tspan font-size="10.5" dy="-11.5">3</tspan></text>
<text x="544.8" y="344.3" font-family='"Liberation Sans", Arial, Helvetica, sans-serif' font-size="20" font-weight="bold" font-style="normal" text-anchor="end" fill="#0a0a0a" letter-spacing="0.3">4x10<tspan font-size="10.5" dy="-11.5">3</tspan></text>
<text x="559.7" y="612.5" font-family='"Liberation Sans", Arial, Helvetica, sans-serif' font-size="20" font-weight="bold" font-style="normal" text-anchor="middle" fill="#0a0a0a" letter-spacing="0.3">0.0</text>
<text x="661.3" y="616.2" font-family='"Liberation Sans", Arial, Helvetica, sans-serif' font-size="20" font-weight="bold" font-style="normal" text-anchor="middle" fill="#0a0a0a" letter-spacing="0.3">2.0x10<tspan font-size="10.5" dy="-11.5">3</tspan></text>
<text x="763" y="616.2" font-family='"Liberation Sans", Arial, Helvetica, sans-serif' font-size="20" font-weight="bold" font-style="normal" text-anchor="middle" fill="#0a0a0a" letter-spacing="0.3">4.0x10<tspan font-size="10.5" dy="-11.5">3</tspan></text>
<text x="863.9" y="616.2" font-family='"Liberation Sans", Arial, Helvetica, sans-serif' font-size="20" font-weight="bold" font-style="normal" text-anchor="middle" fill="#0a0a0a" letter-spacing="0.3">6.0x10<tspan font-size="10.5" dy="-11.5">3</tspan></text>
<text x="872.5" y="572.1" font-family='"Liberation Sans", Arial, Helvetica, sans-serif' font-size="20.5" font-weight="bold" font-style="normal" text-anchor="start" fill="#0a0a0a" letter-spacing="0.3">(e)</text>
<text transform="translate(484.8,463.2) rotate(-90) scale(1,1.06)" font-family='"Liberation Sans", Arial, Helvetica, sans-serif' font-size="22.6" font-weight="bold" letter-spacing="0.5" text-anchor="middle" stroke="#0a0a0a" stroke-width="0.3" fill="#0a0a0a">Z&#39;&#39; / <tspan font-weight="normal" stroke="#0a0a0a" stroke-width="0.5" font-family='"Liberation Serif", "Times New Roman", serif'>&#937;</tspan></text>
<text x="731.2" y="643.5" font-family='"Liberation Sans", Arial, Helvetica, sans-serif' font-size="22.6" font-weight="bold" letter-spacing="0.5" text-anchor="middle" stroke="#0a0a0a" stroke-width="0.3" fill="#0a0a0a">Z&#39; / <tspan font-weight="normal" stroke="#0a0a0a" stroke-width="0.5" font-family='"Liberation Serif", "Times New Roman", serif'>&#937;</tspan></text>
</g>
<g id="pf">
<clipPath id="cf"><rect x="553" y="663.5" width="360.2" height="252.7"/></clipPath>
<g clip-path="url(#cf)">
<rect x="855.28" y="737.95" width="11.83" height="11.31" fill="#0a0a0a"/>
<rect x="808.98" y="749.64" width="11.83" height="11.31" fill="#0a0a0a"/>
<rect x="785.98" y="732.85" width="11.83" height="11.31" fill="#0a0a0a"/>
<rect x="757.98" y="721.35" width="11.83" height="11.31" fill="#0a0a0a"/>
<rect x="729.48" y="715.05" width="11.83" height="11.31" fill="#0a0a0a"/>
<rect x="697.08" y="712.64" width="11.83" height="11.31" fill="#0a0a0a"/>
<rect x="667.58" y="719.35" width="11.83" height="11.31" fill="#0a0a0a"/>
<rect x="637.08" y="728.55" width="11.83" height="11.31" fill="#0a0a0a"/>
<rect x="613.58" y="752.75" width="11.83" height="11.31" fill="#0a0a0a"/>
<rect x="594.98" y="776.95" width="11.83" height="11.31" fill="#0a0a0a"/>
<rect x="582.28" y="800.85" width="11.83" height="11.31" fill="#0a0a0a"/>
<rect x="574.08" y="822.64" width="11.83" height="11.31" fill="#0a0a0a"/>
<rect x="568.48" y="840.55" width="11.83" height="11.31" fill="#0a0a0a"/>
<rect x="565.18" y="854.05" width="11.83" height="11.31" fill="#0a0a0a"/>
<rect x="563.18" y="864.25" width="11.83" height="11.31" fill="#0a0a0a"/>
<rect x="561.58" y="872.35" width="11.83" height="11.31" fill="#0a0a0a"/>
<rect x="560.38" y="879.35" width="11.83" height="11.31" fill="#0a0a0a"/>
<rect x="559.48" y="886.35" width="11.83" height="11.31" fill="#0a0a0a"/>
<polygon points="566.3,894.25 558.75,906.95 573.85,906.95" fill="#2030f2"/>
<polygon points="566.3,891.65 558.75,904.35 573.85,904.35" fill="#2030f2"/>
<polygon points="566.4,889.15 558.85,901.85 573.95,901.85" fill="#2030f2"/>
<polygon points="566.5,886.65 558.95,899.35 574.05,899.35" fill="#2030f2"/>
<polygon points="566.7,884.15 559.15,896.85 574.25,896.85" fill="#2030f2"/>
<polygon points="567,881.65 559.45,894.35 574.55,894.35" fill="#2030f2"/>
<polygon points="567.4,879.15 559.85,891.85 574.95,891.85" fill="#2030f2"/>
<polygon points="567.9,876.65 560.35,889.35 575.45,889.35" fill="#2030f2"/>
<polygon points="568.5,874.15 560.95,886.85 576.05,886.85" fill="#2030f2"/>
<polygon points="569.2,871.65 561.65,884.35 576.75,884.35" fill="#2030f2"/>
<polygon points="570,869.15 562.45,881.85 577.55,881.85" fill="#2030f2"/>
<polygon points="570.9,866.65 563.35,879.35 578.45,879.35" fill="#2030f2"/>
<polygon points="571.9,864.15 564.35,876.85 579.45,876.85" fill="#2030f2"/>
<polygon points="573,861.65 565.45,874.35 580.55,874.35" fill="#2030f2"/>
<polygon points="574.3,859.15 566.75,871.85 581.85,871.85" fill="#2030f2"/>
<polygon points="577,854.15 569.45,866.85 584.55,866.85" fill="#2030f2"/>
<polygon points="580.3,849.35 572.75,862.05 587.85,862.05" fill="#2030f2"/>
<polygon points="584.5,845.15 576.95,857.85 592.05,857.85" fill="#2030f2"/>
<polygon points="588.5,841.35 580.95,854.05 596.05,854.05" fill="#2030f2"/>
<polygon points="593.3,838.85 585.75,851.55 600.85,851.55" fill="#2030f2"/>
<polygon points="599.4,832.45 591.85,845.15 606.95,845.15" fill="#2030f2"/>
<polygon points="610.6,830.35 603.05,843.05 618.15,843.05" fill="#2030f2"/>
<polygon points="617.5,822.75 609.95,835.45 625.05,835.45" fill="#2030f2"/>
<polygon points="630.2,829.35 622.65,842.05 637.75,842.05" fill="#2030f2"/>
<polygon points="639.2,824.85 631.65,837.55 646.75,837.55" fill="#2030f2"/>
<polygon points="648.1,838.35 640.55,851.05 655.65,851.05" fill="#2030f2"/>
<polygon points="658.3,822.25 650.75,834.95 665.85,834.95" fill="#2030f2"/>
<polygon points="660.8,833.25 653.25,845.95 668.35,845.95" fill="#2030f2"/>
<polygon points="671.8,832.95 664.25,845.65 679.35,845.65" fill="#2030f2"/>
<polygon points="675.6,843.15 668.05,855.85 683.15,855.85" fill="#2030f2"/>
</g>
<rect x="553" y="663.5" width="360.2" height="252.7" fill="none" stroke="#0a0a0a" stroke-width="2"/>
<line x1="546.5" y1="902.4" x2="553" y2="902.4" stroke="#0a0a0a" stroke-width="1.8" stroke-linecap="butt"/>
<line x1="546.5" y1="704.1" x2="553" y2="704.1" stroke="#0a0a0a" stroke-width="1.8" stroke-linecap="butt"/>
<line x1="549.5" y1="803" x2="553" y2="803" stroke="#0a0a0a" stroke-width="1.8" stroke-linecap="butt"/>
<line x1="564.5" y1="916.2" x2="564.5" y2="922.7" stroke="#0a0a0a" stroke-width="1.8" stroke-linecap="butt"/>
<line x1="680.4" y1="916.2" x2="680.4" y2="922.7" stroke="#0a0a0a" stroke-width="1.8" stroke-linecap="butt"/>
<line x1="796.6" y1="916.2" x2="796.6" y2="922.7" stroke="#0a0a0a" stroke-width="1.8" stroke-linecap="butt"/>
<line x1="913" y1="916.2" x2="913" y2="922.7" stroke="#0a0a0a" stroke-width="1.8" stroke-linecap="butt"/>
<line x1="622.45" y1="916.2" x2="622.45" y2="919.7" stroke="#0a0a0a" stroke-width="1.8" stroke-linecap="butt"/>
<line x1="738.5" y1="916.2" x2="738.5" y2="919.7" stroke="#0a0a0a" stroke-width="1.8" stroke-linecap="butt"/>
<line x1="854.8" y1="916.2" x2="854.8" y2="919.7" stroke="#0a0a0a" stroke-width="1.8" stroke-linecap="butt"/>
<text x="543.5" y="905.9" font-family='"Liberation Sans", Arial, Helvetica, sans-serif' font-size="20" font-weight="bold" font-style="normal" text-anchor="end" fill="#0a0a0a" letter-spacing="0.3">0</text>
<text x="543.5" y="711.4" font-family='"Liberation Sans", Arial, Helvetica, sans-serif' font-size="20" font-weight="bold" font-style="normal" text-anchor="end" fill="#0a0a0a" letter-spacing="0.3">1x10<tspan font-size="10.5" dy="-11.5">3</tspan></text>
<text x="564.7" y="939.9" font-family='"Liberation Sans", Arial, Helvetica, sans-serif' font-size="20" font-weight="bold" font-style="normal" text-anchor="middle" fill="#0a0a0a" letter-spacing="0.3">0</text>
<text x="680.7" y="944" font-family='"Liberation Sans", Arial, Helvetica, sans-serif' font-size="20" font-weight="bold" font-style="normal" text-anchor="middle" fill="#0a0a0a" letter-spacing="0.3">1x10<tspan font-size="10.5" dy="-11.5">3</tspan></text>
<text x="796.9" y="944" font-family='"Liberation Sans", Arial, Helvetica, sans-serif' font-size="20" font-weight="bold" font-style="normal" text-anchor="middle" fill="#0a0a0a" letter-spacing="0.3">2x10<tspan font-size="10.5" dy="-11.5">3</tspan></text>
<text x="913.3" y="944" font-family='"Liberation Sans", Arial, Helvetica, sans-serif' font-size="20" font-weight="bold" font-style="normal" text-anchor="middle" fill="#0a0a0a" letter-spacing="0.3">3x10<tspan font-size="10.5" dy="-11.5">3</tspan></text>
<text x="875" y="898" font-family='"Liberation Sans", Arial, Helvetica, sans-serif' font-size="20.5" font-weight="bold" font-style="normal" text-anchor="start" fill="#0a0a0a" letter-spacing="0.3">(f)</text>
<text transform="translate(498.5,802.4) rotate(-90) scale(1,1.06)" font-family='"Liberation Sans", Arial, Helvetica, sans-serif' font-size="22.6" font-weight="bold" letter-spacing="0.5" text-anchor="middle" stroke="#0a0a0a" stroke-width="0.3" fill="#0a0a0a">Z&#39;&#39; / <tspan font-weight="normal" stroke="#0a0a0a" stroke-width="0.5" font-family='"Liberation Serif", "Times New Roman", serif'>&#937;</tspan></text>
<text x="736.2" y="969.2" font-family='"Liberation Sans", Arial, Helvetica, sans-serif' font-size="22.6" font-weight="bold" letter-spacing="0.5" text-anchor="middle" stroke="#0a0a0a" stroke-width="0.3" fill="#0a0a0a">Z&#39; / <tspan font-weight="normal" stroke="#0a0a0a" stroke-width="0.5" font-family='"Liberation Serif", "Times New Roman", serif'>&#937;</tspan></text>
</g>
<g id="pg">
<rect x="97.2" y="990.3" width="361.1" height="251.9" fill="none" stroke="#0a0a0a" stroke-width="2"/>
<rect x="94.2" y="1113.7" width="6" height="4.6" fill="#fff"/>
<line x1="91.1" y1="1116.1" x2="103.3" y2="1111.3" stroke="#0a0a0a" stroke-width="1.6" stroke-linecap="butt"/>
<line x1="91.1" y1="1120.7" x2="103.3" y2="1115.9" stroke="#0a0a0a" stroke-width="1.6" stroke-linecap="butt"/>
<rect x="455.3" y="1114.7" width="6" height="3" fill="#fff"/>
<line x1="454.9" y1="1116.3" x2="461.7" y2="1111.8" stroke="#0a0a0a" stroke-width="1.9" stroke-linecap="butt"/>
<line x1="454.9" y1="1120.5" x2="461.7" y2="1116" stroke="#0a0a0a" stroke-width="1.9" stroke-linecap="butt"/>
<line x1="90.7" y1="1008.6" x2="97.2" y2="1008.6" stroke="#0a0a0a" stroke-width="1.8" stroke-linecap="butt"/>
<line x1="90.7" y1="1046.3" x2="97.2" y2="1046.3" stroke="#0a0a0a" stroke-width="1.8" stroke-linecap="butt"/>
<line x1="90.7" y1="1084" x2="97.2" y2="1084" stroke="#0a0a0a" stroke-width="1.8" stroke-linecap="butt"/>
<line x1="90.7" y1="1143.5" x2="97.2" y2="1143.5" stroke="#0a0a0a" stroke-width="1.8" stroke-linecap="butt"/>
<line x1="90.7" y1="1192.8" x2="97.2" y2="1192.8" stroke="#0a0a0a" stroke-width="1.8" stroke-linecap="butt"/>
<line x1="90.7" y1="1242.2" x2="97.2" y2="1242.2" stroke="#0a0a0a" stroke-width="1.8" stroke-linecap="butt"/>
<line x1="93.7" y1="1027.4" x2="97.2" y2="1027.4" stroke="#0a0a0a" stroke-width="1.8" stroke-linecap="butt"/>
<line x1="93.7" y1="1065" x2="97.2" y2="1065" stroke="#0a0a0a" stroke-width="1.8" stroke-linecap="butt"/>
<line x1="93.7" y1="1102.8" x2="97.2" y2="1102.8" stroke="#0a0a0a" stroke-width="1.8" stroke-linecap="butt"/>
<line x1="93.7" y1="1168" x2="97.2" y2="1168" stroke="#0a0a0a" stroke-width="1.8" stroke-linecap="butt"/>
<line x1="93.7" y1="1217.5" x2="97.2" y2="1217.5" stroke="#0a0a0a" stroke-width="1.8" stroke-linecap="butt"/>
<line x1="157.2" y1="1242.2" x2="157.2" y2="1248.7" stroke="#0a0a0a" stroke-width="1.8" stroke-linecap="butt"/>
<line x1="277.6" y1="1242.2" x2="277.6" y2="1248.7" stroke="#0a0a0a" stroke-width="1.8" stroke-linecap="butt"/>
<line x1="398" y1="1242.2" x2="398" y2="1248.7" stroke="#0a0a0a" stroke-width="1.8" stroke-linecap="butt"/>
<text x="87.4" y="1015.5" font-family='"Liberation Sans", Arial, Helvetica, sans-serif' font-size="19.5" font-weight="bold" font-style="normal" text-anchor="end" fill="#0a0a0a" letter-spacing="0.3">7</text>
<text x="87.4" y="1053.2" font-family='"Liberation Sans", Arial, Helvetica, sans-serif' font-size="19.5" font-weight="bold" font-style="normal" text-anchor="end" fill="#0a0a0a" letter-spacing="0.3">6</text>
<text x="87.4" y="1090.9" font-family='"Liberation Sans", Arial, Helvetica, sans-serif' font-size="19.5" font-weight="bold" font-style="normal" text-anchor="end" fill="#0a0a0a" letter-spacing="0.3">5</text>
<text x="87.4" y="1150.4" font-family='"Liberation Sans", Arial, Helvetica, sans-serif' font-size="19.5" font-weight="bold" font-style="normal" text-anchor="end" fill="#0a0a0a" letter-spacing="0.3">0.8</text>
<text x="87.4" y="1199.7" font-family='"Liberation Sans", Arial, Helvetica, sans-serif' font-size="19.5" font-weight="bold" font-style="normal" text-anchor="end" fill="#0a0a0a" letter-spacing="0.3">0.4</text>
<text x="87.4" y="1248.2" font-family='"Liberation Sans", Arial, Helvetica, sans-serif' font-size="19.5" font-weight="bold" font-style="normal" text-anchor="end" fill="#0a0a0a" letter-spacing="0.3">0.0</text>
<rect x="151.33" y="1036.39" width="11.73" height="11.21" fill="#0a0a0a"/>
<rect x="271.74" y="1007.09" width="11.73" height="11.21" fill="#0a0a0a"/>
<rect x="392.33" y="1088.39" width="11.73" height="11.21" fill="#0a0a0a"/>
<circle cx="157.2" cy="1145.6" r="6.4" fill="#fa0606"/>
<circle cx="277.6" cy="1136.5" r="6.4" fill="#fa0606"/>
<circle cx="397.6" cy="1199.8" r="6.4" fill="#fa0606"/>
<text x="420.3" y="1017.8" font-family='"Liberation Sans", Arial, Helvetica, sans-serif' font-size="20.5" font-weight="bold" font-style="normal" text-anchor="start" fill="#0a0a0a" letter-spacing="0.3">(g)</text>
<rect x="120" y="1181" width="114" height="49.3" fill="#000"/>
<rect x="116" y="1177" width="114" height="49.3" fill="#fff" stroke="#555" stroke-width="0.9"/>
<rect x="129.49" y="1187.93" width="11.02" height="10.53" fill="#0a0a0a"/>
<circle cx="135" cy="1217" r="5.9" fill="#fa0606"/>
<text x="159.2" y="1197.3" font-family='"Liberation Sans", Arial, Helvetica, sans-serif' font-size="19.2" font-weight="bold" font-style="normal" text-anchor="start" fill="#0a0a0a" letter-spacing="0.3">-0.15 V</text>
<text x="160.7" y="1220.5" font-family='"Liberation Sans", Arial, Helvetica, sans-serif' font-size="19.2" font-weight="bold" font-style="normal" text-anchor="start" fill="#0a0a0a" letter-spacing="0.3">-0.50 V</text>
<text x="146.8" y="1267.7" font-family='"Liberation Sans", Arial, Helvetica, sans-serif' font-size="20.6" font-weight="bold" font-style="normal" text-anchor="start" fill="#0a0a0a" letter-spacing="0.3">Cl<tspan font-size="18.5" dy="-9" dx="1.2">-</tspan></text>
<text x="262.4" y="1267.7" font-family='"Liberation Sans", Arial, Helvetica, sans-serif' font-size="20.6" font-weight="bold" font-style="normal" text-anchor="start" fill="#0a0a0a" letter-spacing="0.3">SO<tspan font-size="18.5" dy="-9" dx="1.2">-</tspan><tspan font-size="16" dy="14.9">4</tspan></text>
<text x="380.5" y="1267.7" font-family='"Liberation Sans", Arial, Helvetica, sans-serif' font-size="20.6" font-weight="bold" font-style="normal" text-anchor="start" fill="#0a0a0a" letter-spacing="0.3">ClO<tspan font-size="18.5" dy="-9" dx="1.2">-</tspan><tspan font-size="16" dy="14.9">4</tspan></text>
<text transform="translate(41.9,1183.8) rotate(-90) scale(1,1.05)" font-family='"Liberation Sans", Arial, Helvetica, sans-serif' font-size="21" font-weight="bold" letter-spacing="0.3" text-anchor="start" fill="#0a0a0a"><tspan font-style="italic">R</tspan><tspan font-size="19" dy="10" dx="-3.75">ox</tspan><tspan dy="-10" dx="2.6"> x </tspan><tspan dx="0">10</tspan><tspan font-size="13.5" dy="-12.5" dx="0.15">4</tspan><tspan dy="12.5" dx="0.05"> (</tspan><tspan font-weight="normal" font-size="21.5" stroke="#0a0a0a" stroke-width="0.5" font-family='"Liberation Serif", "Times New Roman", serif'>&#937;</tspan>)</text>
</g>
<g id="ph">
<rect x="556.2" y="992.2" width="360.9" height="252.2" fill="none" stroke="#0a0a0a" stroke-width="2"/>
<line x1="549.7" y1="1244.4" x2="556.2" y2="1244.4" stroke="#0a0a0a" stroke-width="1.8" stroke-linecap="butt"/>
<line x1="549.7" y1="1181.4" x2="556.2" y2="1181.4" stroke="#0a0a0a" stroke-width="1.8" stroke-linecap="butt"/>
<line x1="549.7" y1="1118.3" x2="556.2" y2="1118.3" stroke="#0a0a0a" stroke-width="1.8" stroke-linecap="butt"/>
<line x1="549.7" y1="1055.5" x2="556.2" y2="1055.5" stroke="#0a0a0a" stroke-width="1.8" stroke-linecap="butt"/>
<line x1="549.7" y1="992.2" x2="556.2" y2="992.2" stroke="#0a0a0a" stroke-width="1.8" stroke-linecap="butt"/>
<line x1="552.7" y1="1212.9" x2="556.2" y2="1212.9" stroke="#0a0a0a" stroke-width="1.8" stroke-linecap="butt"/>
<line x1="552.7" y1="1149.85" x2="556.2" y2="1149.85" stroke="#0a0a0a" stroke-width="1.8" stroke-linecap="butt"/>
<line x1="552.7" y1="1086.9" x2="556.2" y2="1086.9" stroke="#0a0a0a" stroke-width="1.8" stroke-linecap="butt"/>
<line x1="552.7" y1="1023.85" x2="556.2" y2="1023.85" stroke="#0a0a0a" stroke-width="1.8" stroke-linecap="butt"/>
<line x1="616" y1="1244.4" x2="616" y2="1250.9" stroke="#0a0a0a" stroke-width="1.8" stroke-linecap="butt"/>
<line x1="736.4" y1="1244.4" x2="736.4" y2="1250.9" stroke="#0a0a0a" stroke-width="1.8" stroke-linecap="butt"/>
<line x1="856.6" y1="1244.4" x2="856.6" y2="1250.9" stroke="#0a0a0a" stroke-width="1.8" stroke-linecap="butt"/>
<text x="546.9" y="1249.7" font-family='"Liberation Sans", Arial, Helvetica, sans-serif' font-size="19.2" font-weight="bold" font-style="normal" text-anchor="end" fill="#0a0a0a" letter-spacing="0.3">400</text>
<text x="546.9" y="1186.7" font-family='"Liberation Sans", Arial, Helvetica, sans-serif' font-size="19.2" font-weight="bold" font-style="normal" text-anchor="end" fill="#0a0a0a" letter-spacing="0.3">600</text>
<text x="546.9" y="1123.6" font-family='"Liberation Sans", Arial, Helvetica, sans-serif' font-size="19.2" font-weight="bold" font-style="normal" text-anchor="end" fill="#0a0a0a" letter-spacing="0.3">800</text>
<text x="546.9" y="1060.8" font-family='"Liberation Sans", Arial, Helvetica, sans-serif' font-size="19.2" font-weight="bold" font-style="normal" text-anchor="end" fill="#0a0a0a" letter-spacing="0.3">1000</text>
<text x="546.9" y="997.5" font-family='"Liberation Sans", Arial, Helvetica, sans-serif' font-size="19.2" font-weight="bold" font-style="normal" text-anchor="end" fill="#0a0a0a" letter-spacing="0.3">1200</text>
<rect x="610.34" y="1213.39" width="11.73" height="11.21" fill="#0a0a0a"/>
<rect x="730.53" y="1211.29" width="11.73" height="11.21" fill="#0a0a0a"/>
<rect x="850.74" y="1207.49" width="11.73" height="11.21" fill="#0a0a0a"/>
<circle cx="615.7" cy="1086.6" r="6.4" fill="#fa0606"/>
<circle cx="735.9" cy="1070.5" r="6.4" fill="#fa0606"/>
<circle cx="856.6" cy="1033.1" r="6.4" fill="#fa0606"/>
<text x="573.8" y="1017.7" font-family='"Liberation Sans", Arial, Helvetica, sans-serif' font-size="20.5" font-weight="bold" font-style="normal" text-anchor="start" fill="#0a0a0a" letter-spacing="0.3">(h)</text>
<rect x="571.3" y="1124.6" width="114.4" height="49.7" fill="#000"/>
<rect x="567.3" y="1120.6" width="114.4" height="49.7" fill="#fff" stroke="#555" stroke-width="0.9"/>
<rect x="581.89" y="1131.43" width="11.02" height="10.53" fill="#0a0a0a"/>
<circle cx="587" cy="1160.9" r="5.9" fill="#fa0606"/>
<text x="610.6" y="1140.8" font-family='"Liberation Sans", Arial, Helvetica, sans-serif' font-size="19.2" font-weight="bold" font-style="normal" text-anchor="start" fill="#0a0a0a" letter-spacing="0.3">-0.15 V</text>
<text x="612.1" y="1164.2" font-family='"Liberation Sans", Arial, Helvetica, sans-serif' font-size="19.2" font-weight="bold" font-style="normal" text-anchor="start" fill="#0a0a0a" letter-spacing="0.3">-0.50 V</text>
<text x="605.6" y="1269.3" font-family='"Liberation Sans", Arial, Helvetica, sans-serif' font-size="20.6" font-weight="bold" font-style="normal" text-anchor="start" fill="#0a0a0a" letter-spacing="0.3">Cl<tspan font-size="18.5" dy="-9" dx="1.2">-</tspan></text>
<text x="721.5" y="1269.3" font-family='"Liberation Sans", Arial, Helvetica, sans-serif' font-size="20.6" font-weight="bold" font-style="normal" text-anchor="start" fill="#0a0a0a" letter-spacing="0.3">SO<tspan font-size="18.5" dy="-9" dx="1.2">-</tspan><tspan font-size="16" dy="14.9">4</tspan></text>
<text x="840" y="1269.3" font-family='"Liberation Sans", Arial, Helvetica, sans-serif' font-size="20.6" font-weight="bold" font-style="normal" text-anchor="start" fill="#0a0a0a" letter-spacing="0.3">ClO<tspan font-size="18.5" dy="-9" dx="1.2">-</tspan><tspan font-size="16" dy="14.9">4</tspan></text>
<text transform="translate(501,1120.5) rotate(-90) scale(1,1.05)" font-family='"Liberation Sans", Arial, Helvetica, sans-serif' font-size="22" font-weight="bold" text-anchor="middle" fill="#0a0a0a"><tspan font-style="italic">C</tspan> / <tspan font-weight="normal" stroke="#0a0a0a" stroke-width="0.5" font-family='"Liberation Serif", "Times New Roman", serif'>&#956;</tspan>F</text>
<polyline fill="none" stroke="#0a0a0a" stroke-width="2.1" stroke-linejoin="round" points="768.1,1123.2 772.6,1113.2 780.8,1132.2 788,1113.2 795.2,1132.2 802.4,1113.2 806.9,1122.3 819.6,1122.3"/>
<polyline fill="none" stroke="#0a0a0a" stroke-width="1.4" points="849.3,1104.2 819.6,1104.2 819.6,1136.7 839.4,1136.7"/>
<polyline fill="none" stroke="#0a0a0a" stroke-width="2.1" stroke-linejoin="round" points="839.4,1136.7 843.9,1127.7 852,1144.8 858.4,1127.7 866.5,1144.8 873.7,1127.7 878.2,1136.7"/>
<polyline fill="none" stroke="#0a0a0a" stroke-width="1.4" points="878.2,1136.7 894.5,1136.7 894.5,1104.2 862.5,1104.2"/>
<line x1="849.3" y1="1093.4" x2="849.3" y2="1115" stroke="#0a0a0a" stroke-width="1.7" stroke-linecap="butt"/>
<line x1="862.5" y1="1093.4" x2="862.5" y2="1115" stroke="#0a0a0a" stroke-width="1.7" stroke-linecap="butt"/>
<line x1="894.5" y1="1122.3" x2="916.5" y2="1122.3" stroke="#0a0a0a" stroke-width="1.5" stroke-linecap="butt"/>
<circle cx="782.6" cy="1138.5" r="1.3" fill="#0a0a0a"/>
<text x="846" y="1086.2" font-family='"Liberation Serif", "Times New Roman", serif' font-size="20" font-style="italic" fill="#0a0a0a">C</text>
<text x="776.5" y="1154.7" font-family='"Liberation Serif", "Times New Roman", serif' font-size="19" fill="#0a0a0a"><tspan font-style="italic">R</tspan><tspan font-size="14.5" dy="3.5" dx="1.5">s</tspan></text>
<text x="848" y="1170.1" font-family='"Liberation Serif", "Times New Roman", serif' font-size="19" fill="#0a0a0a"><tspan font-style="italic">R</tspan><tspan font-size="14.5" dy="3" dx="1.2">ox</tspan></text>
</g>
</svg>
</body>
</html>
